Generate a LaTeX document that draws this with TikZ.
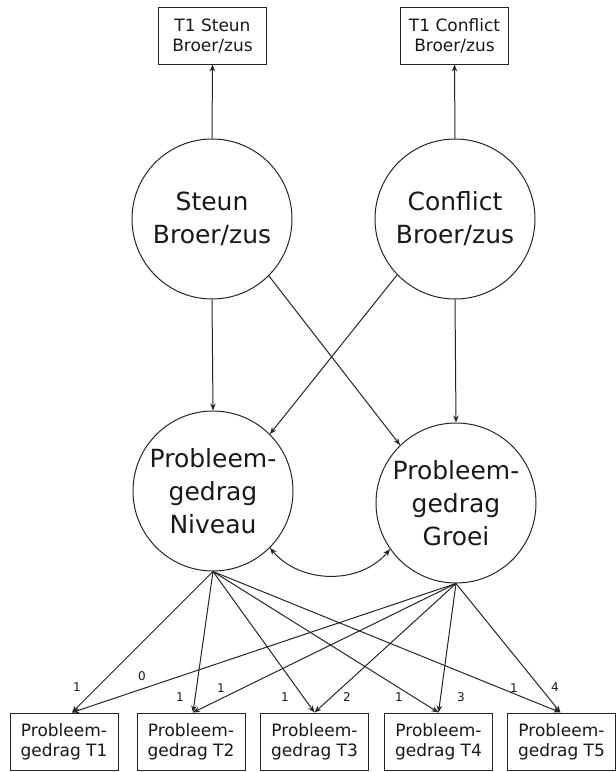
\documentclass[tikz,border=0pt]{standalone}
\usepackage{fontspec}
\setmainfont{DejaVu Sans}
\usetikzlibrary{arrows.meta}
\begin{document}
\begin{tikzpicture}[x=1pt,y=-1pt,
  latent/.style={circle, draw=black!85, line width=1pt, minimum size=160pt, inner sep=0pt, align=center, font=\fontsize{25}{33}\selectfont, text=black!90},
  obs/.style={rectangle, draw=black!85, line width=1pt, minimum width=108pt, minimum height=57pt, inner sep=0pt, align=center, font=\fontsize{17}{20}\selectfont, text=black!90},
  lbl/.style={font=\fontsize{12}{13}\selectfont, text=black!90, inner sep=0pt},
  arr/.style={draw=black!85, line width=1pt, -{Stealth[length=7pt,width=5.5pt]}},
  darr/.style={draw=black!85, line width=1pt, {Stealth[length=7pt,width=5.5pt]}-{Stealth[length=7pt,width=5.5pt]}}
]
\useasboundingbox (0,0) rectangle (616,772);
\fill[white] (0,0) rectangle (616,772);

% top indicators
\node[obs] (ts) at (212.5,35.5) {T1 Steun\\Broer/zus};
\node[obs] (tc) at (454.5,35.5) {T1 Conflict\\Broer/zus};

% latent factors
\node[latent] (steun) at (212,219) {Steun\\Broer/zus};
\node[latent] (conflict) at (455,219) {Conflict\\Broer/zus};
\node[latent] (niveau) at (213,491) {Probleem-\\gedrag\\Niveau};
\node[latent] (groei) at (456,503) {Probleem-\\gedrag\\Groei};

% bottom indicators
\node[obs] (b1) at (64,741.5) {Probleem-\\gedrag T1};
\node[obs] (b2) at (191,741.5) {Probleem-\\gedrag T2};
\node[obs] (b3) at (314.5,741.5) {Probleem-\\gedrag T3};
\node[obs] (b4) at (438.5,741.5) {Probleem-\\gedrag T4};
\node[obs] (b5) at (561.5,741.5) {Probleem-\\gedrag T5};

% arrows to top indicators
\draw[arr] (steun.north) -- (ts.south);
\draw[arr] (conflict.north) -- (tc.south);

% structural paths
\draw[arr] (steun.south) -- (niveau.north);
\draw[arr] (conflict.south) -- (groei.north);
\draw[arr] (steun.-45) -- (groei.134);
\draw[arr] (conflict.-136) -- (niveau.45);

% covariance
\draw[darr] (niveau.-45) to[out=-50,in=-130] (groei.215);

% loadings
\draw[arr] (niveau.south) -- ([xshift=8pt]b1.north);
\draw[arr] (niveau.south) -- ([xshift=2pt]b2.north);
\draw[arr] (niveau.south) -- (b3.north);
\draw[arr] (niveau.south) -- (b4.north);
\draw[arr] (niveau.south) -- ([xshift=-1pt]b5.north);
\draw[arr] (groei.south) -- ([xshift=8pt]b1.north);
\draw[arr] (groei.south) -- ([xshift=2pt]b2.north);
\draw[arr] (groei.south) -- (b3.north);
\draw[arr] (groei.south) -- (b4.north);
\draw[arr] (groei.south) -- ([xshift=-1pt]b5.north);

% loading labels
\node[lbl] (l11) at (77,687) {1};
\node[lbl] (l10) at (142,676) {0};
\node[lbl] (l21) at (180,697) {1};
\node[lbl] (l22) at (221,688) {1};
\node[lbl] (l31) at (285,697) {1};
\node[lbl] (l32) at (347,697) {2};
\node[lbl] (l41) at (399,697) {1};
\node[lbl] (l43) at (461,697) {3};
\node[lbl] (l51) at (514,688) {1};
\node[lbl] (l54) at (555,687) {4};
\end{tikzpicture}
\end{document}
